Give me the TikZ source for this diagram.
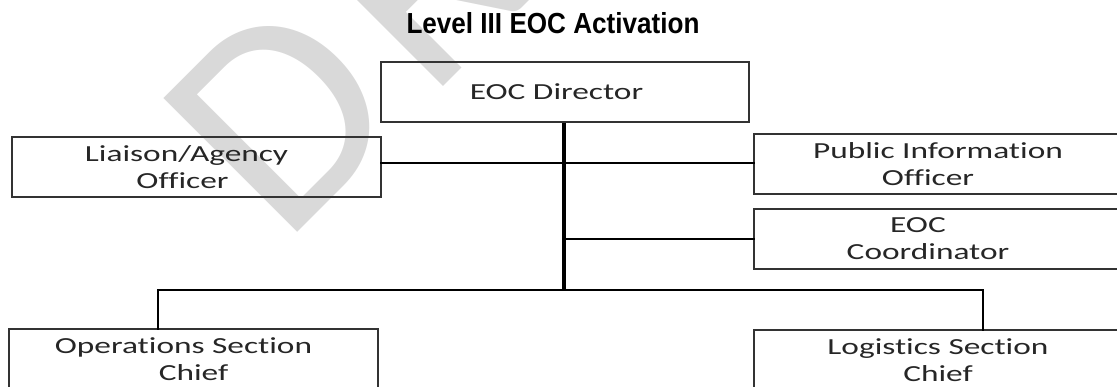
\documentclass[tikz,border=0pt]{standalone}
\usepackage{fontspec}
\newfontfamily\boxfont[FakeStretch=1.45,Ligatures=NoCommon]{Carlito}
\newfontfamily\titlefont[FakeStretch=0.9]{Liberation Sans}
\newfontfamily\wmfont[LetterSpace=8]{Carlito}
\begin{document}
\begin{tikzpicture}[x=1pt,y=-1pt,
  box/.style={draw=black!80, line width=1.4pt, minimum height=60pt, inner sep=0pt,
    align=center, text=black!85, font={\boxfont\fontsize{23}{27}\selectfont}},
  conn/.style={draw=black, line width=2.8pt, line join=miter, line cap=rect},
  trunk/.style={draw=black, line width=3.8pt, line join=miter},
  wm/.style={text=black!15, inner sep=0pt, font={\wmfont\fontsize{295}{300}\selectfont}}]
\useasboundingbox (0,0) rectangle (1117,387);
% watermark
\node[wm, rotate=45, anchor=base west] (wm) at (283.7,246.2) {DRAFT};
% title
\node[anchor=base, inner sep=0pt, font={\titlefont\bfseries\fontsize{29}{32}\selectfont}] (title) at (553,34) {Level III EOC Activation};
% boxes
\node[box, minimum width=368pt] (dir) at (565,92) {EOC Director\hspace*{17pt}};
\node[box, minimum width=369pt] (lia) at (196.5,167) {Liaison/Agency\hspace*{20pt}\\Officer\hspace*{28pt}};
\node[box, minimum width=368pt] (pio) at (938,164) {Public Information\\Officer\hspace*{20pt}};
\node[box, minimum width=368pt] (coord) at (938,239) {EOC\hspace*{40pt}\\Coordinator\hspace*{20pt}};
\node[box, minimum width=369pt] (ops) at (193.5,359) {Operations Section\hspace*{20pt}\\Chief};
\node[box, minimum width=368pt] (log) at (938,360) {Logistics Section\\Chief};
% connectors
\coordinate (j1) at (564,163);
\coordinate (bus) at (564,290);
\draw[trunk] (dir.south -| bus) -- (bus);
\draw[conn] (lia.east |- j1) -- (pio.west |- j1);
\draw[conn] (bus |- coord.west) -- (coord.west);
\draw[conn] ([xshift=-35.5pt]ops.north) |- (bus) -| ([xshift=45pt]log.north);
\end{tikzpicture}
\end{document}
